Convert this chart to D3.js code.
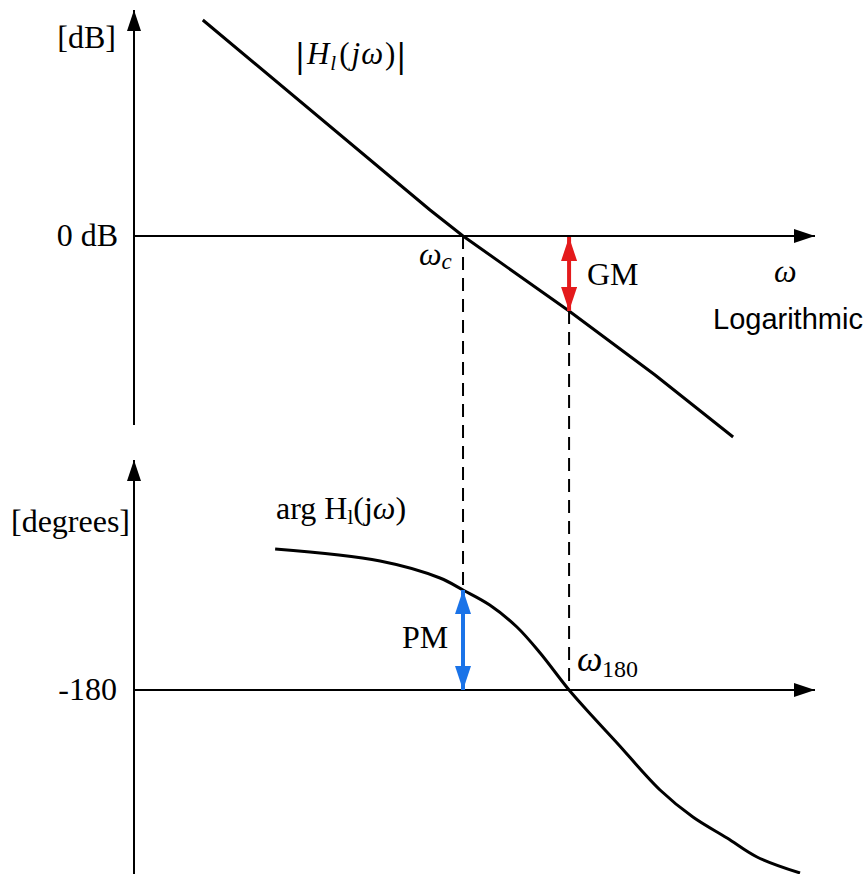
<!DOCTYPE html>
<html>
<head>
<meta charset="utf-8">
<script src="https://cdn.jsdelivr.net/npm/d3@7"></script>
<style>
  body { margin: 0; background: #fff; }
  text { font-family: "Liberation Serif", serif; fill: #000; }
</style>
</head>
<body>
<div id="chart"></div>
<script>
// Frequencies (rad/s, log axis) and values
const magOmega = [0.05, 0.684, 1, 3.39, 9.12, 22.4];
const magDb = [54, 6.5, 0, -18.75, -34.75, -50.25];

const phaseOmega = [0.115, 0.385, 0.767, 1, 1.36, 1.86, 2.43, 3.39, 4.47, 5.89, 9.66, 14.1, 20.9, 29.5, 48.4];
const phaseDeg = [-109.5, -115.5, -124, -130, -137.5, -148.5, -161.5, -180, -193.5, -206.5, -230, -243.5, -254, -263.5, -271.5];

const omegaC = 1;      // crossover frequency
const omega180 = 3.39; // phase crossover
const gmDb = -18.75;   // magnitude at omega180
const pmDeg = -130;    // phase at omegaC

const width = 866, height = 874;

const svg = d3.select('#chart')
    .append('svg')
    .attr('width', width)
    .attr('height', height);

// Scales
const x = d3.scaleLog().domain([0.02265, 57.5]).range([134, 815]);
const yMag = d3.scaleLinear().domain([56.5, -47]).range([10, 424]);
const yPh = d3.scaleLinear().domain([-65, -272]).range([460, 874]);

// arrow heads
const defs = svg.append('defs');
function marker(id, color, w, l) {
    defs.append('marker')
        .attr('id', id)
        .attr('markerUnits', 'userSpaceOnUse')
        .attr('viewBox', `0 ${-w / 2} ${l} ${w}`)
        .attr('refX', l)
        .attr('refY', 0)
        .attr('markerWidth', l)
        .attr('markerHeight', w)
        .attr('orient', 'auto-start-reverse')
        .append('path')
        .attr('d', `M0,${-w / 2}L${l},0L0,${w / 2}Z`)
        .attr('fill', color);
}
marker('ax', '#000', 14, 21);
marker('gm', '#e41a1c', 16, 24);
marker('pm', '#1a73e8', 16, 24);

// Axes with arrows
function axisLine(x1, y1, x2, y2) {
    svg.append('line')
        .attr('x1', x1).attr('y1', y1)
        .attr('x2', x2).attr('y2', y2)
        .attr('stroke', '#000')
        .attr('stroke-width', 2)
        .attr('marker-end', 'url(#ax)');
}
axisLine(x.range()[0], yMag.range()[1] + 1, x.range()[0], yMag.range()[0]);
axisLine(x.range()[0], yMag(0), x.range()[1], yMag(0));
axisLine(x.range()[0], yPh.range()[1], x.range()[0], yPh.range()[0]);
axisLine(x.range()[0], yPh(-180), x.range()[1], yPh(-180));

// Dashed guides
svg.append('line')
    .attr('x1', x(omegaC)).attr('x2', x(omegaC))
    .attr('y1', yMag(0)).attr('y2', yPh(pmDeg))
    .attr('stroke', '#000').attr('stroke-width', 2)
    .attr('stroke-dasharray', '13,8');
svg.append('line')
    .attr('x1', x(omega180)).attr('x2', x(omega180))
    .attr('y1', yMag(gmDb)).attr('y2', yPh(-180))
    .attr('stroke', '#000').attr('stroke-width', 2)
    .attr('stroke-dasharray', '13,8');

// Magnitude curve
const magLine = d3.line()
    .x((d, i) => x(magOmega[i]))
    .y(d => yMag(d));
svg.append('path')
    .attr('d', magLine(magDb))
    .attr('fill', 'none')
    .attr('stroke', '#000')
    .attr('stroke-width', 3);

// Phase curve
const phLine = d3.line()
    .x((d, i) => x(phaseOmega[i]))
    .y(d => yPh(d))
    .curve(d3.curveCatmullRom);
svg.append('path')
    .attr('d', phLine(phaseDeg))
    .attr('fill', 'none')
    .attr('stroke', '#000')
    .attr('stroke-width', 3);

// GM and PM arrows
svg.append('line')
    .attr('x1', x(omega180)).attr('x2', x(omega180))
    .attr('y1', yMag(0) + 1).attr('y2', yMag(gmDb))
    .attr('stroke', '#e41a1c').attr('stroke-width', 4)
    .attr('marker-start', 'url(#gm)')
    .attr('marker-end', 'url(#gm)');
svg.append('line')
    .attr('x1', x(omegaC)).attr('x2', x(omegaC))
    .attr('y1', yPh(pmDeg)).attr('y2', yPh(-180))
    .attr('stroke', '#1a73e8').attr('stroke-width', 4)
    .attr('marker-start', 'url(#pm)')
    .attr('marker-end', 'url(#pm)');

// Labels
const fs = 32;
function label(tx, ty, str, anchor) {
    return svg.append('text')
        .attr('x', tx).attr('y', ty)
        .attr('font-size', fs)
        .attr('text-anchor', anchor || 'start')
        .text(str);
}
label(116, 48, '[dB]', 'end');
label(118, 246, '0 dB', 'end');
label(117, 700, '-180', 'end');
label(130, 532, '[degrees]', 'end');

const hl = svg.append('text').attr('x', 296).attr('y', 64).attr('font-size', 31);
hl.append('tspan').attr('font-size', 36).attr('font-weight', 'bold').attr('dy', 3).text('|');
hl.append('tspan').attr('font-style', 'italic').attr('dx', 3).attr('dy', -3).text('H');
hl.append('tspan').attr('font-style', 'italic').attr('font-size', 21).attr('dy', 6).attr('dx', 1).text('l');
hl.append('tspan').attr('dy', -6).attr('dx', 3).text('(');
hl.append('tspan').attr('font-style', 'italic').attr('dx', 2).text('j');
hl.append('tspan').attr('font-style', 'italic').attr('dx', 1).text('ω');
hl.append('tspan').attr('dx', 2).text(')');
hl.append('tspan').attr('font-size', 36).attr('font-weight', 'bold').attr('dx', 2).attr('dy', 3).text('|');

const arg = svg.append('text').attr('x', 276).attr('y', 519).attr('font-size', fs);
arg.append('tspan').text('arg H');
arg.append('tspan').attr('font-size', 21).attr('dy', 5).text('l');
arg.append('tspan').attr('dy', -5).text('(j');
arg.append('tspan').attr('font-style', 'italic').text('ω');
arg.append('tspan').text(')');

const wc = svg.append('text').attr('x', 419).attr('y', 265).attr('font-size', fs);
wc.append('tspan').attr('font-style', 'italic').text('ω');
wc.append('tspan').attr('font-style', 'italic').attr('font-size', 23).attr('dy', 4).text('c');

label(587, 285, 'GM');
svg.append('text').attr('x', 774).attr('y', 282)
    .attr('font-size', fs).attr('font-style', 'italic').text('ω');
svg.append('text').attr('x', 713).attr('y', 329)
    .attr('font-size', 29)
    .style('font-family', '"Liberation Sans", Arial, sans-serif')
    .text('Logarithmic');

label(402, 648, 'PM');
svg.append('text').attr('x', 577).attr('y', 671)
    .attr('font-size', 36).attr('font-style', 'italic')
    .text('ω');
svg.append('text').attr('x', 602).attr('y', 677)
    .attr('font-size', 24).text('180');
</script>
</body>
</html>
